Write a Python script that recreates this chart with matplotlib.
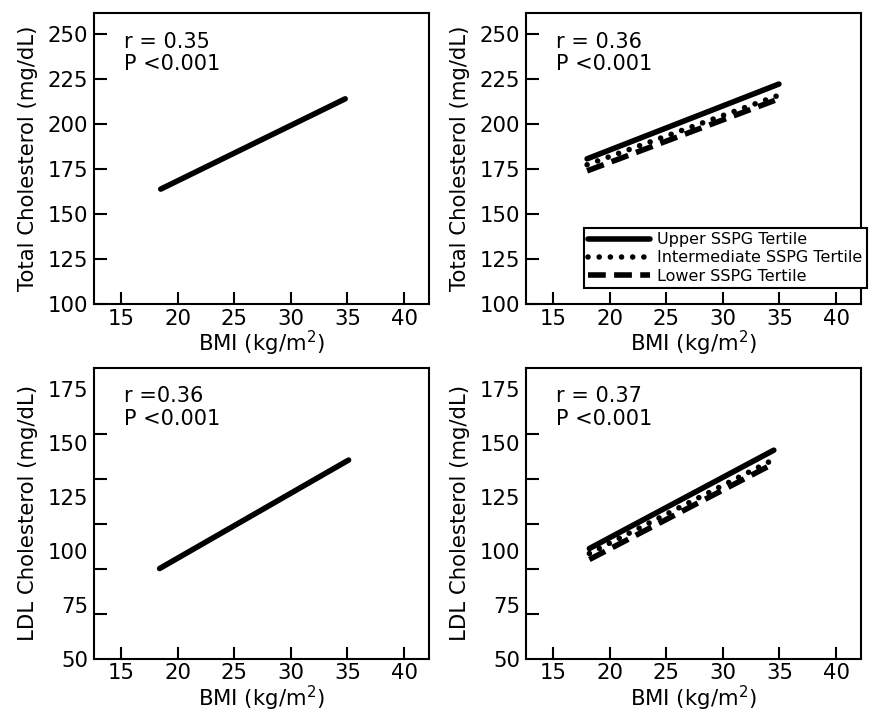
import numpy as np
import matplotlib.pyplot as plt
from matplotlib.ticker import FixedLocator

# ── Data (regression line endpoints) ──────────────────────────────────────────
bmi_tc_all   = [18.5, 34.8]
tc_all       = [163.7, 213.8]

bmi_tc_tert  = [18.0, 34.95]
tc_upper     = [180.5, 222.0]
tc_interm    = [177.2, 215.8]
tc_lower     = [173.8, 213.8]

bmi_ldl_all  = [18.4, 35.1]
ldl_all      = [91.8, 142.2]

bmi_ldl_tert = [18.2, 34.5]
ldl_upper    = [101.1, 146.8]
ldl_interm   = [98.8, 142.5]
ldl_lower    = [96.0, 140.6]

stats = ["r = 0.35\nP <0.001", "r = 0.36\nP <0.001",
         "r =0.36\nP <0.001", "r = 0.37\nP <0.001"]
tert_labels = ["Upper SSPG Tertile", "Intermediate SSPG Tertile", "Lower SSPG Tertile"]

x_ticks   = [15, 20, 25, 30, 35, 40]
tc_ticks  = [100, 125, 150, 175, 200, 225, 250]
ldl_ticks = [50, 75, 100, 125, 150, 175]

plt.rcParams['font.family'] = ['DejaVu Sans']
FS = 15.3
LW = 4.0
styles = {
    'upper':  dict(linestyle='-', solid_capstyle='round'),
    'interm': dict(linestyle=(0, (0.01, 2.0)), dash_capstyle='round'),
    'lower':  dict(linestyle=(0, (3.2, 1.5)), dash_capstyle='butt'),
}

fig = plt.figure(figsize=(8.7, 7.15), dpi=100)
W, H = 0.385, 0.407
ax_tl = fig.add_axes([0.108, 0.575, W, H])
ax_tr = fig.add_axes([0.6046, 0.575, W, H])
ax_bl = fig.add_axes([0.108, 0.079, W, H])
ax_br = fig.add_axes([0.6046, 0.079, W, H])

def style_axes(ax, ylim, yticks, ylabel, txt, ldl=False):
    ax.set_xlim(12.6, 42.2)
    ax.set_ylim(*ylim)
    ax.set_xticks(x_ticks)
    ax.set_yticks(yticks)
    for s in ax.spines.values():
        s.set_linewidth(1.5)
    ax.tick_params(direction='in', length=9, width=1.5, labelsize=FS, pad=4)
    ax.tick_params(axis='x', pad=3.5)
    if ldl:
        # the original has 7 evenly spaced marks while labels sit on the true scale
        ax.tick_params(axis='y', length=0)
        ax.yaxis.set_minor_locator(FixedLocator(np.linspace(50, 175, 7)))
        ax.tick_params(axis='y', which='minor', direction='in', length=9, width=1.5)
    ax.set_xlabel("BMI (kg/m$^2$)", fontsize=FS, labelpad=0)
    ax.set_ylabel(ylabel, fontsize=FS, labelpad=7)
    ax.text(0.09, 0.935, txt, transform=ax.transAxes, fontsize=15,
            va='top', ha='left', linespacing=1.15)

style_axes(ax_tl, (100, 261.5), tc_ticks, "Total Cholesterol (mg/dL)", stats[0])
style_axes(ax_tr, (100, 261.5), tc_ticks, "Total Cholesterol (mg/dL)", stats[1])
style_axes(ax_bl, (50, 185.2), ldl_ticks, "LDL Cholesterol (mg/dL)", stats[2], ldl=True)
style_axes(ax_br, (50, 185.2), ldl_ticks, "LDL Cholesterol (mg/dL)", stats[3], ldl=True)

ax_tl.plot(bmi_tc_all, tc_all, color='black', lw=LW, **styles['upper'])
ax_bl.plot(bmi_ldl_all, ldl_all, color='black', lw=LW, **styles['upper'])

for ax, xs, ys in [(ax_tr, bmi_tc_tert, [tc_upper, tc_interm, tc_lower]),
                   (ax_br, bmi_ldl_tert, [ldl_upper, ldl_interm, ldl_lower])]:
    for key, y, lab in zip(['upper', 'interm', 'lower'], ys, tert_labels):
        ax.plot(xs, y, color='black', lw=LW, label=lab, **styles[key])

leg = ax_tr.legend(loc='upper left', bbox_to_anchor=(0.173, 0.26), borderaxespad=0,
                   fontsize=11.5, frameon=True, fancybox=False, framealpha=1,
                   edgecolor='black', handlelength=3.9, handletextpad=0.45,
                   labelspacing=0.2, borderpad=0.25)
leg.get_frame().set_linewidth(1.5)

fig.savefig("out.png", dpi=100)
